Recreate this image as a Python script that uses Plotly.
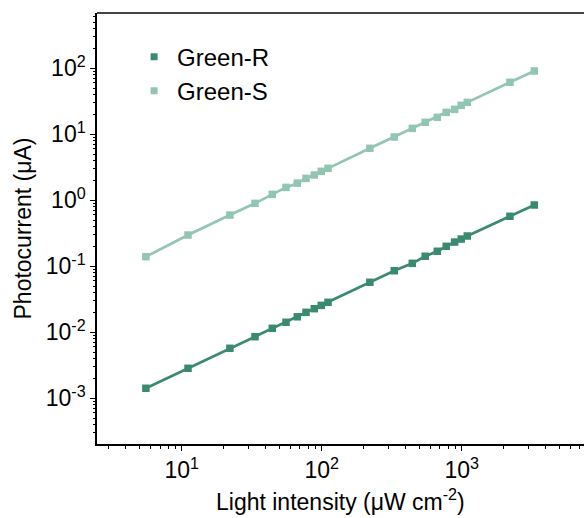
import plotly.graph_objects as go

# Light intensity (µW cm^-2) and photocurrent (µA) for the two devices
intensity = [5.55, 11.1, 22.1, 33.4, 44.4, 55.6, 67.0, 77.3, 88.6, 99.3, 111,
             221, 330, 444, 549, 670, 776, 891, 993, 1097, 2213, 3304]
current_r = [1.42e-3, 2.85e-3, 5.73e-3, 8.58e-3, 0.0115, 0.0142, 0.0172, 0.0201,
             0.0228, 0.0256, 0.0285, 0.0573, 0.0857, 0.111, 0.142, 0.169, 0.201,
             0.233, 0.259, 0.288, 0.573, 0.849]
current_s = [0.140, 0.298, 0.598, 0.90, 1.23, 1.57, 1.82, 2.15, 2.42, 2.75, 3.05,
             6.14, 9.10, 12.3, 15.2, 18.1, 21.5, 23.9, 27.5, 30.5, 61.4, 91.0]

series_names = ["Green-R", "Green-S"]
x_ticks = [10, 100, 1000]
x_tick_text = ["10<sup>1</sup>", "10<sup>2</sup>", "10<sup>3</sup>"]
y_ticks = [1e-3, 1e-2, 1e-1, 1, 10, 100]
y_tick_text = ["10<sup>-3</sup>", "10<sup>-2</sup>", "10<sup>-1</sup>",
               "10<sup>0</sup>", "10<sup>1</sup>", "10<sup>2</sup>"]

COLOR_R = "#3a8b6e"
COLOR_S = "#93c6b2"
FONT = "Arial, Liberation Sans, sans-serif"


def minor_vals(lo_exp, hi_exp):
    vals = []
    for e in range(lo_exp, hi_exp + 1):
        for m in range(2, 10):
            vals.append(m * 10 ** e)
    return vals


fig = go.Figure()
for name, values, color in [(series_names[0], current_r, COLOR_R),
                            (series_names[1], current_s, COLOR_S)]:
    # the data itself, drawn as line + square markers
    fig.add_trace(go.Scatter(
        x=intensity, y=values, name=name, mode="lines+markers",
        line=dict(color=color, width=2.7),
        marker=dict(symbol="square", size=7.5, color=color),
        legendgroup=name, showlegend=False,
    ))
    # marker-only entry for the legend
    fig.add_trace(go.Scatter(
        x=[None], y=[None], name=name, mode="markers",
        marker=dict(symbol="square", size=7, color=color),
        legendgroup=name, showlegend=True,
    ))

axis_common = dict(
    type="log", showgrid=False, zeroline=False, showline=True,
    linecolor="black", linewidth=1.5,
    ticks="outside", ticklen=5, tickwidth=1.2, tickcolor="black",
    tickfont=dict(family=FONT, size=23, color="black"),
)

fig.update_xaxes(
    **axis_common,
    range=[0.395, 3.874],
    tickmode="array", tickvals=x_ticks, ticktext=x_tick_text,
    minor=dict(tickmode="array", tickvals=minor_vals(0, 3), ticks="outside",
               ticklen=3, tickwidth=1, tickcolor="black"),
)
fig.update_yaxes(
    **axis_common,
    range=[-3.692, 2.838],
    tickmode="array", tickvals=y_ticks, ticktext=y_tick_text,
    minor=dict(tickmode="array", tickvals=minor_vals(-4, 2), ticks="outside",
               ticklen=2.5, tickwidth=1, tickcolor="black"),
)

# top frame line
fig.add_shape(type="line", xref="paper", yref="paper", x0=0, x1=1, y0=1, y1=1,
              line=dict(color="#444444", width=2.2))

# axis titles
fig.add_annotation(text="Light intensity (μW cm<sup>-2</sup>)", xref="paper",
                   yref="paper", x=0.5, y=0, yshift=-56, showarrow=False,
                   xanchor="center", yanchor="middle",
                   font=dict(family=FONT, size=23, color="black"))
fig.add_annotation(text="Photocurrent (μA)", xref="paper", yref="paper",
                   x=0, y=0.5, xshift=-75, textangle=-90, showarrow=False,
                   xanchor="center", yanchor="middle",
                   font=dict(family=FONT, size=23, color="black"))

fig.update_layout(
    width=584, height=518,
    margin=dict(l=97, r=0, t=13, b=74),
    plot_bgcolor="white", paper_bgcolor="white",
    showlegend=True,
    legend=dict(x=0.07, y=0.95, xanchor="left", yanchor="top",
                bgcolor="rgba(0,0,0,0)", font=dict(family=FONT, size=24, color="black"),
                itemwidth=36, tracegroupgap=0),
)

fig.write_html("out.html")
